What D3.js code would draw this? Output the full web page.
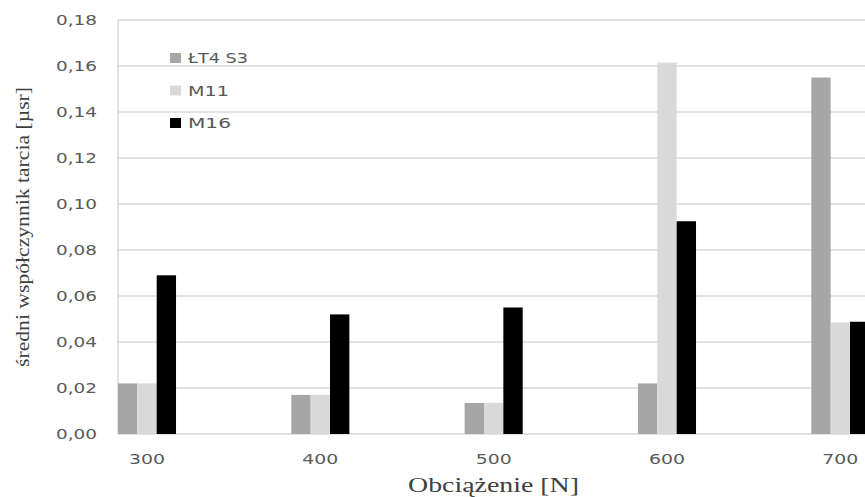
<!DOCTYPE html>
<html>
<head>
<meta charset="utf-8">
<script src="https://cdn.jsdelivr.net/npm/d3@7"></script>
<style>
  html, body { margin: 0; padding: 0; background: #fff; }
  svg { display: block; }
</style>
</head>
<body>
<svg id="chart" width="865" height="497"></svg>
<script>
// Load categories [N]
const categories = ["300", "400", "500", "600", "700"];
// Series names and fills
const seriesNames = ["ŁT4 S3", "M11", "M16"];
const seriesColors = ["#a6a6a6", "#d9d9d9", "#000000"];
// Mean friction coefficient per series, one value per load
const valuesLT4S3 = [0.022, 0.017, 0.0135, 0.022, 0.155];
const valuesM11   = [0.022, 0.017, 0.0135, 0.1615, 0.0485];
const valuesM16   = [0.069, 0.052, 0.055, 0.0925, 0.0488];
const yTicks = [0, 0.02, 0.04, 0.06, 0.08, 0.10, 0.12, 0.14, 0.16, 0.18];

const seriesValues = [valuesLT4S3, valuesM11, valuesM16];
const rows = categories.map((c, i) => ({
  cat: c,
  vals: seriesNames.map((s, k) => ({ key: s, k, v: seriesValues[k][i] }))
}));

const svg = d3.select("#chart");
const plotLeft = 118, plotRight = 865, plotTop = 20, plotBottom = 434;

const y = d3.scaleLinear().domain([0, 0.18]).range([plotBottom, plotTop]);
const x0 = d3.scaleBand().domain(categories)
  .range([60.33, 927]).paddingInner(0.665).paddingOuter(0.3325);
const x1 = d3.scaleBand().domain(seriesNames).range([0, x0.bandwidth()]);

const fmt = v => d3.format(".2f")(v).replace(".", ",");

// Horizontal gridlines
svg.append("g").selectAll("line").data(yTicks).join("line")
  .attr("x1", plotLeft).attr("x2", plotRight)
  .attr("y1", d => y(d)).attr("y2", d => y(d))
  .attr("stroke", "#d9d9d9").attr("stroke-width", 1.5);

// Vertical axis line
svg.append("line")
  .attr("x1", plotLeft).attr("x2", plotLeft)
  .attr("y1", plotTop).attr("y2", plotBottom)
  .attr("stroke", "#d9d9d9").attr("stroke-width", 1.5);

// Bars
svg.append("clipPath").attr("id", "plotclip")
  .append("rect").attr("x", plotLeft).attr("y", 0)
  .attr("width", plotRight - plotLeft).attr("height", plotBottom);
const groups = svg.append("g").attr("clip-path", "url(#plotclip)")
  .selectAll("g").data(rows).join("g")
  .attr("transform", d => `translate(${x0(d.cat)},0)`);
groups.selectAll("rect").data(d => d.vals).join("rect")
  .attr("x", d => x1(d.key))
  .attr("width", x1.bandwidth())
  .attr("y", d => y(d.v))
  .attr("height", d => y(0) - y(d.v))
  .attr("fill", d => seriesColors[d.k]);

// Y axis tick labels
const yAxis = d3.axisLeft(y).tickValues(yTicks).tickFormat(fmt).tickSize(0).tickPadding(0);
const gy = svg.append("g").attr("transform", "translate(97,0)").call(yAxis);
gy.select(".domain").remove();
gy.selectAll("text")
  .attr("font-family", "'DejaVu Sans', sans-serif")
  .attr("font-size", 13.5).attr("fill", "#595959")
  .attr("textLength", 41).attr("lengthAdjust", "spacingAndGlyphs");

// X axis tick labels
const xAxis = d3.axisBottom(x0).tickSize(0).tickPadding(0);
const gx = svg.append("g").attr("transform", "translate(0,454)").call(xAxis);
gx.select(".domain").remove();
gx.selectAll("text")
  .attr("font-family", "'DejaVu Sans', sans-serif")
  .attr("font-size", 13.5).attr("fill", "#595959")
  .attr("textLength", 36).attr("lengthAdjust", "spacingAndGlyphs");

// Axis titles
svg.append("text")
  .attr("x", 493.5).attr("y", 492)
  .attr("text-anchor", "middle")
  .attr("font-family", "'Liberation Serif', 'DejaVu Serif', serif")
  .attr("font-size", 20).attr("fill", "#404040")
  .attr("textLength", 171).attr("lengthAdjust", "spacingAndGlyphs")
  .text("Obciążenie [N]");

svg.append("text")
  .attr("transform", "translate(29,227) rotate(-90)")
  .attr("text-anchor", "middle")
  .attr("font-family", "'Liberation Serif', 'DejaVu Serif', serif")
  .attr("font-size", 19).attr("fill", "#404040")
  .attr("textLength", 280).attr("lengthAdjust", "spacingAndGlyphs")
  .text("średni współczynnik tarcia [µsr]");

// Legend
const legendLengths = [60, 41, 43];
const legend = svg.append("g").selectAll("g").data(seriesNames).join("g")
  .attr("transform", (d, i) => `translate(170,${58 + i * 32.5})`);
legend.append("rect")
  .attr("x", 0).attr("y", -5).attr("width", 11).attr("height", 10)
  .attr("fill", (d, i) => seriesColors[i]);
legend.append("text")
  .attr("x", 18).attr("y", 5)
  .attr("font-family", "'DejaVu Sans', sans-serif")
  .attr("font-size", 13.5).attr("fill", "#595959")
  .attr("textLength", (d, i) => legendLengths[i]).attr("lengthAdjust", "spacingAndGlyphs")
  .text(d => d);
</script>
</body>
</html>
